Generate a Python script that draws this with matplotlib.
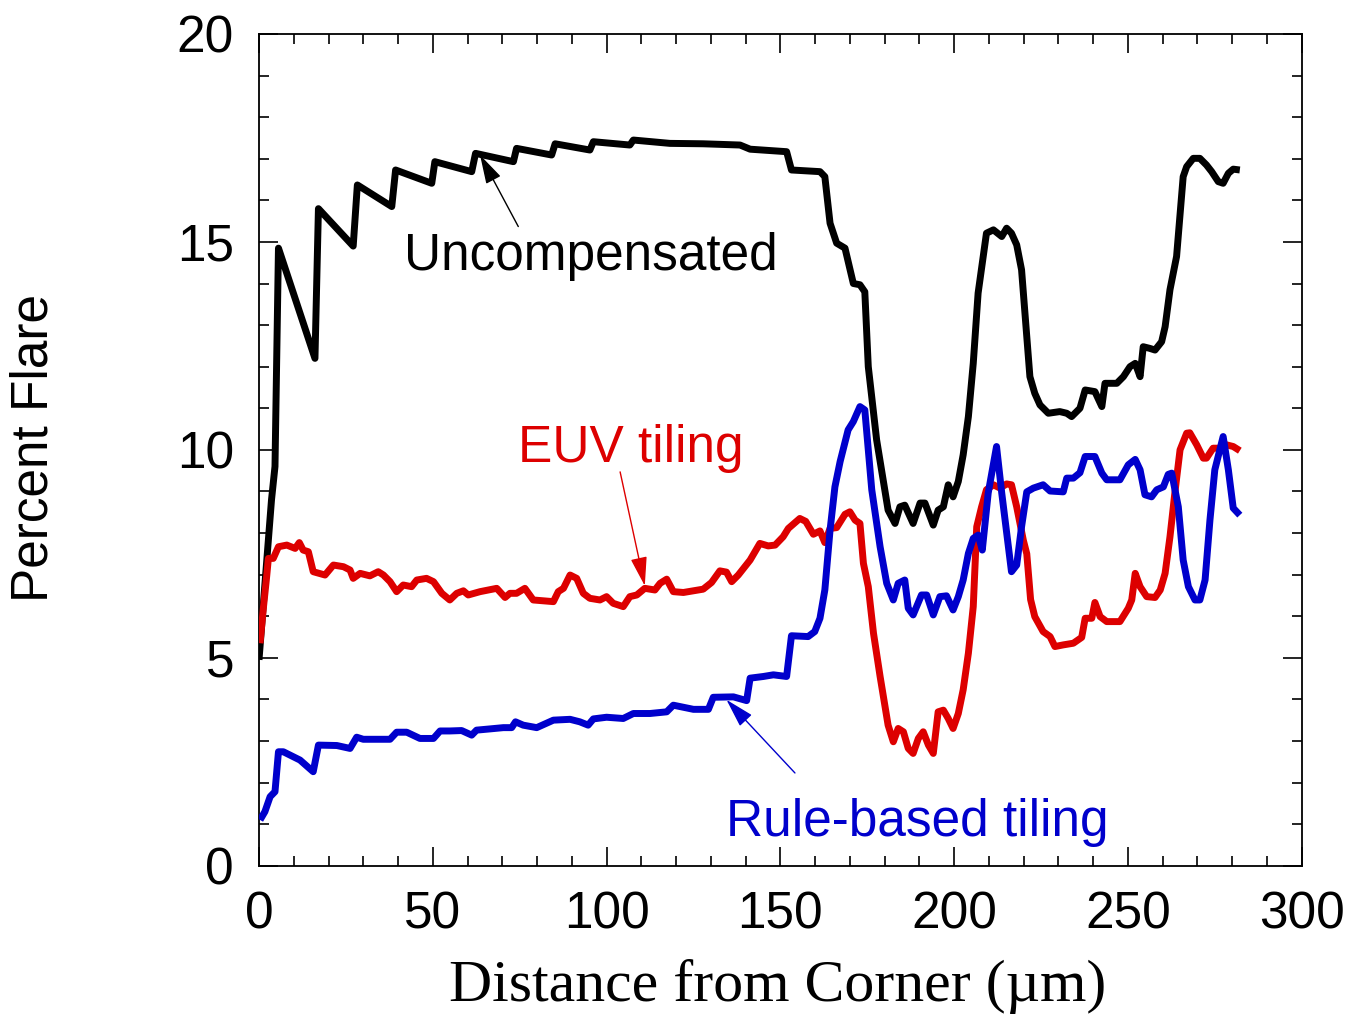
import matplotlib
matplotlib.use("Agg")
import matplotlib.pyplot as plt
from matplotlib.ticker import MultipleLocator

# ---------------- data ----------------
uncomp_x = [0, 3.6, 4.6, 5.6, 16.1, 17.1, 27.1, 28.3, 38.2, 39.3, 49.7, 50.6, 61.2, 62.3,
            73.2, 74.1, 84.2, 85.2, 95.2, 96.2, 106.7, 107.7, 118.2, 127.8, 138.4, 141.3,
            151.8, 153.2, 161.4, 162.8, 164.3, 166.2, 168.6, 171.0, 172.9, 174.3, 175.3,
            177.7, 181.0, 183.0, 184.4, 185.8, 188.2, 190.2, 191.6, 194.0, 195.4, 196.9,
            198.3, 199.7, 201.2, 202.6, 204.1, 205.5, 206.9, 209.3, 211.3, 213.7, 215.1,
            216.5, 218.0, 219.4, 221.8, 223.2, 224.7, 227.1, 230.4, 232.4, 233.8, 236.2,
            237.7, 240.5, 242.5, 243.4, 246.8, 248.7, 250.6, 252.1, 253.5, 254.4, 256.3,
            257.8, 259.7, 260.7, 262.1, 264.0, 265.9, 266.9, 268.8, 270.7, 272.6, 274.1,
            276.0, 277.4, 278.9, 280.3, 282.2]
uncomp_y = [4.95, 8.8, 9.6, 14.85, 12.2, 15.8, 14.9, 16.37, 15.85, 16.73, 16.41, 16.93, 16.69, 17.13,
            16.93, 17.25, 17.09, 17.36, 17.21, 17.41, 17.33, 17.45, 17.37, 17.36, 17.33, 17.23,
            17.17, 16.73, 16.69, 16.57, 15.45, 14.97, 14.85, 14.0, 13.97, 13.8, 12.0,
            10.24, 8.55, 8.23, 8.63, 8.67, 8.23, 8.72, 8.72, 8.19, 8.55, 8.63,
            9.16, 8.87, 9.24, 9.88, 10.8, 12.08, 13.77, 15.21, 15.29, 15.13, 15.33,
            15.21, 14.93, 14.33, 11.76, 11.36, 11.08, 10.88, 10.92, 10.88, 10.80, 11.0,
            11.44, 11.40, 11.04, 11.6, 11.6, 11.76, 12.0, 12.08, 11.76, 12.48, 12.44,
            12.4, 12.6, 12.96, 13.85, 14.65, 16.57, 16.81, 17.01, 17.01, 16.85, 16.69,
            16.45, 16.41, 16.65, 16.75, 16.73]

euv_x = [0.3, 1.2, 2.2, 2.7, 4.1, 5.6, 8.0, 10.4, 11.6, 12.7, 14.2, 15.6, 19.0, 21.4, 24.3,
         26.2, 27.1, 29.1, 31.9, 34.3, 35.8, 37.7, 39.6, 41.5, 43.9, 45.4, 48.2, 50.2, 52.6,
         54.9, 56.9, 58.8, 60.2, 63.6, 68.4, 70.8, 72.2, 74.1, 76.5, 78.9, 84.7, 86.1, 87.6,
         89.5, 91.4, 93.3, 95.2, 98.1, 100.0, 101.9, 104.8, 106.7, 108.7, 111.0, 112.5, 113.9,
         115.4, 117.3, 119.2, 122.1, 125.0, 127.8, 130.2, 132.6, 134.5, 136.0, 137.9, 141.3,
         144.1, 146.5, 148.5, 150.8, 152.3, 155.6, 157.3, 159.5, 161.4, 162.8, 164.3, 166.2,
         168.6, 170.0, 171.5, 172.9, 173.9, 175.3, 176.8, 178.7, 181.0, 182.5, 183.9, 185.4,
         186.8, 188.2, 189.7, 191.1, 192.6, 194.0, 195.4, 196.9, 198.3, 199.7, 201.2, 202.6,
         204.1, 205.5, 206.5, 207.9, 209.3, 211.3, 213.2, 215.1, 216.5, 218.0, 219.9, 220.9,
         222.0, 223.2, 225.6, 227.6, 229.0, 231.4, 234.3, 236.7, 237.7, 239.6, 240.5, 242.0,
         243.9, 247.7, 250.1, 251.1, 252.1, 253.5, 255.4, 257.8, 259.3, 260.7, 262.1, 263.5,
         265.0, 266.9, 267.8, 269.8, 271.7, 272.6, 274.5, 276.5, 278.4, 280.3, 282.2]
euv_y = [5.35, 6.15, 6.95, 7.39, 7.39, 7.67, 7.71, 7.63, 7.77, 7.59, 7.55, 7.07, 6.99, 7.23, 7.19,
         7.11, 6.91, 7.03, 6.97, 7.07, 6.99, 6.83, 6.59, 6.75, 6.71, 6.87, 6.91, 6.83, 6.55,
         6.39, 6.55, 6.61, 6.51, 6.59, 6.67, 6.45, 6.55, 6.55, 6.67, 6.39, 6.35, 6.59, 6.67,
         6.99, 6.91, 6.55, 6.43, 6.39, 6.47, 6.31, 6.23, 6.47, 6.51, 6.67, 6.65, 6.63,
         6.79, 6.89, 6.59, 6.57, 6.61, 6.65, 6.81, 7.09, 7.06, 6.83, 6.99, 7.35,
         7.75, 7.69, 7.71, 7.91, 8.11, 8.35, 8.28, 7.97, 8.05, 7.77, 8.11, 8.13,
         8.45, 8.51, 8.31, 8.23, 7.27, 6.71, 5.59, 4.55, 3.38, 2.98, 3.30, 3.22,
         2.82, 2.70, 3.06, 3.22, 2.90, 2.70, 3.70, 3.74, 3.54, 3.30, 3.66, 4.23,
         5.11, 6.23, 8.15, 8.63, 9.04, 9.16, 9.08, 9.18, 9.16, 8.63, 7.83, 7.5,
         6.4, 5.99, 5.63, 5.51, 5.27, 5.31, 5.35, 5.49, 5.95, 5.95, 6.33, 5.99,
         5.87, 5.87, 6.19, 6.39, 7.03, 6.71, 6.47, 6.45, 6.63, 7.03, 7.91, 8.96,
         10.0, 10.4, 10.41, 10.12, 9.80, 9.80, 10.04, 10.04, 10.12, 10.08, 9.98]

rule_x = [0.3, 1.7, 3.2, 4.6, 5.6, 7.0, 11.8, 15.6, 17.1, 22.4, 26.2, 28.1, 30.0, 37.7, 39.6,
          42.5, 46.3, 50.2, 52.1, 54.9, 58.3, 61.2, 62.6, 66.5, 70.3, 72.7, 73.8, 76.0, 79.9,
          84.7, 89.5, 92.3, 94.7, 96.2, 100.0, 104.8, 107.7, 112.5, 117.3, 119.2, 125.0, 129.3,
          130.7, 136.5, 140.3, 141.3, 145.1, 148.0, 151.8, 153.2, 158.0, 159.9, 161.4, 162.8,
          164.3, 165.7, 167.2, 169.5, 171.0, 172.9, 174.3, 176.3, 178.7, 180.6, 182.5, 183.9,
          185.8, 186.8, 188.2, 190.6, 192.1, 194.0, 195.9, 197.8, 199.7, 201.2, 202.6, 204.1,
          205.5, 206.9, 208.1, 209.8, 212.2, 213.7, 216.5, 218.0, 219.4, 220.9, 222.8, 225.6,
          227.6, 231.4, 232.4, 234.3, 236.2, 237.7, 240.5, 242.5, 243.9, 247.7, 250.1, 252.1,
          253.5, 254.9, 256.8, 258.3, 260.2, 261.6, 262.6, 264.5, 265.9, 267.4, 269.3, 270.7,
          272.2, 273.6, 275.0, 277.4, 278.9, 280.3, 282.2]
rule_y = [1.10, 1.30, 1.66, 1.78, 2.74, 2.74, 2.54, 2.26, 2.90, 2.89, 2.82, 3.09, 3.04, 3.04, 3.21,
          3.21, 3.06, 3.06, 3.24, 3.24, 3.25, 3.14, 3.26, 3.29, 3.32, 3.32, 3.46, 3.38, 3.32,
          3.50, 3.52, 3.46, 3.38, 3.53, 3.57, 3.54, 3.66, 3.66, 3.70, 3.86, 3.76, 3.76,
          4.05, 4.06, 3.97, 4.51, 4.55, 4.59, 4.55, 5.53, 5.51, 5.63, 5.95, 6.63,
          8.07, 9.11, 9.72, 10.48, 10.68, 11.04, 10.96, 9.04, 7.67, 6.79, 6.39, 6.79,
          6.87, 6.19, 6.03, 6.51, 6.51, 6.03, 6.47, 6.49, 6.15, 6.47, 6.87, 7.51,
          7.87, 7.95, 7.59, 8.96, 10.08, 8.96, 7.07, 7.23, 8.15, 8.99, 9.08, 9.16,
          9.01, 8.99, 9.32, 9.32, 9.45, 9.84, 9.84, 9.44, 9.28, 9.28, 9.64, 9.77,
          9.52, 8.92, 8.87, 9.04, 9.11, 9.41, 9.44, 8.63, 7.35, 6.71, 6.39, 6.39,
          6.87, 8.31, 9.52, 10.32, 9.52, 8.60, 8.43]

x_ticks = [0, 50, 100, 150, 200, 250, 300]
y_ticks = [0, 5, 10, 15, 20]

BLACK = "#000000"
RED = "#dd0000"
BLUE = "#0000cc"

plt.rcParams["font.family"] = ["Liberation Sans", "DejaVu Sans"]

fig = plt.figure(figsize=(13.46, 10.16), dpi=100)
ax = fig.add_axes([259 / 1346, 1 - 865.7 / 1016, (1301.7 - 259) / 1346, (865.7 - 34) / 1016])

lw = 5.0
for xs, ys, c, z in [(uncomp_x, uncomp_y, BLACK, 3), (euv_x, euv_y, RED, 3),
                     (rule_x, rule_y, BLUE, 4)]:
    ax.plot(xs, ys, color=c, lw=lw, solid_joinstyle="round", solid_capstyle="butt", zorder=z)

ax.set_xlim(0, 300)
ax.set_ylim(0, 20)
ax.set_xticks(x_ticks)
ax.set_yticks(y_ticks)
ax.xaxis.set_minor_locator(MultipleLocator(10))
ax.yaxis.set_minor_locator(MultipleLocator(1))
ax.tick_params(which="both", direction="in", top=True, right=True, width=1.2, colors="black")
ax.tick_params(which="major", length=14, pad=18, labelsize=37)
ax.tick_params(which="minor", length=7)
for s in ax.spines.values():
    s.set_linewidth(1.3)

# annotations
fs = 37
astyle = "-|>,head_length=0.6,head_width=0.17"
ax.text(41.8, 14.33, "Uncompensated", color=BLACK, fontsize=fs, ha="left", va="baseline")
ax.annotate("", xy=(63.6, 17.09), xytext=(74.6, 15.37),
            arrowprops=dict(arrowstyle=astyle, color=BLACK, lw=1, mutation_scale=30,
                            shrinkA=0, shrinkB=0), zorder=5)
ax.text(74.5, 9.71, "EUV tiling", color=RED, fontsize=fs, ha="left", va="baseline")
ax.annotate("", xy=(111.0, 6.73), xytext=(103.9, 9.47),
            arrowprops=dict(arrowstyle=astyle, color=RED, lw=1, mutation_scale=30,
                            shrinkA=0, shrinkB=0), zorder=5)
ax.text(134.4, 0.71, "Rule-based tiling", color=BLUE, fontsize=fs, ha="left", va="baseline")
ax.annotate("", xy=(134.5, 3.99), xytext=(154.2, 2.23),
            arrowprops=dict(arrowstyle=astyle, color=BLUE, lw=1, mutation_scale=30,
                            shrinkA=0, shrinkB=0), zorder=5)

fig.text(34 / 1346, 1 - 448 / 1016, "Percent Flare", rotation=90, ha="center", va="center",
         fontsize=37)
fig.text(777.5 / 1346, 15 / 1016, "Distance from Corner (\u00b5m)", ha="center", va="baseline",
         fontsize=43, family=["Liberation Serif", "DejaVu Serif"])

fig.savefig("out.png", dpi=100)
